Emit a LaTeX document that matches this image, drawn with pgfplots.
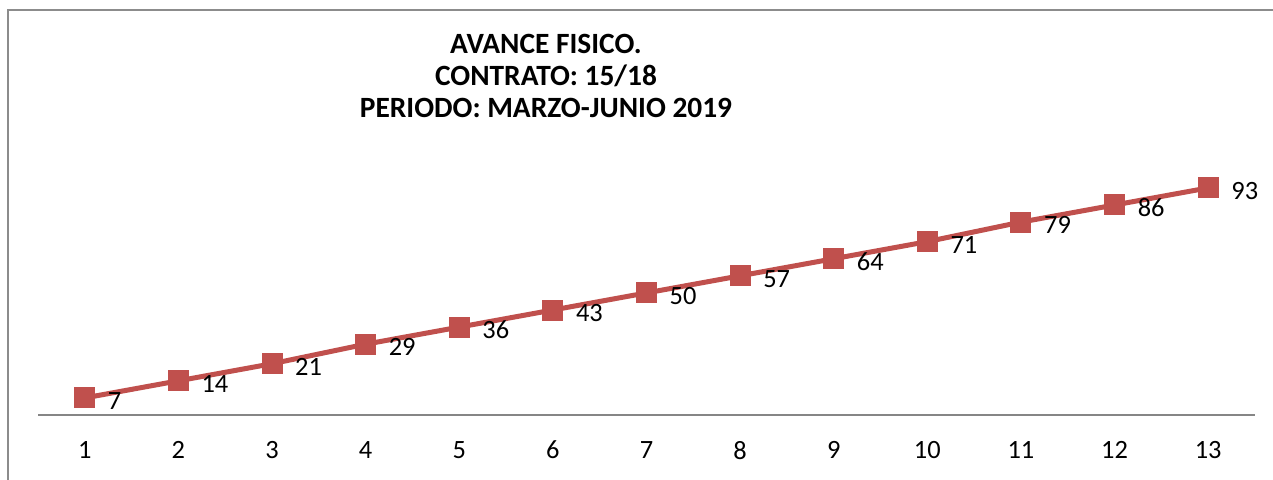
\documentclass[border=0pt]{standalone}
\usepackage{pgfplots}
\pgfplotsset{compat=1.18}
\usepackage{fontspec}
\setmainfont{Carlito}
\definecolor{serie}{RGB}{192,80,77}
\definecolor{framegray}{RGB}{140,140,140}
\definecolor{axisgray}{RGB}{134,134,134}
\begin{document}
\begin{tikzpicture}
\path[use as bounding box] (0,0) rectangle (636.5pt,239.5pt);
\draw[framegray, line width=1pt] (4pt,-10pt) -- (4pt,234.5pt) -- (650pt,234.5pt);
\node[align=center, font=\fontsize{14.7}{15.9}\selectfont\bfseries] at (273pt,201.5pt)
  {AVANCE FISICO.\\CONTRATO: 15/18\\PERIODO: MARZO-JUNIO 2019};
\begin{axis}[
  at={(19pt,32pt)}, anchor=south west,
  scale only axis, width=608.5pt, height=122.1pt,
  xmin=0.5, xmax=13.5, ymin=0, ymax=100,
  axis x line*=bottom, hide y axis,
  axis line style={axisgray, line width=0.75pt, -},
  xtick={1,...,13}, major tick length=0pt,
  /pgf/number format/assume math mode=true,
  xticklabel style={font=\fontsize{13.2}{15.8}\selectfont, anchor=north, yshift=-9.5pt},
  clip=false,
  nodes near coords,
  nodes near coords style={font=\fontsize{13.2}{15.8}\selectfont, anchor=west, xshift=8pt, yshift=-1.5pt, text=black},
]
\addplot[serie, line width=2.5pt, mark=square*, mark size=5pt, mark options={line width=0.5pt}]
coordinates {(1,7)(2,14)(3,21)(4,29)(5,36)(6,43)(7,50)(8,57)(9,64)(10,71)(11,79)(12,86)(13,93)};
\end{axis}
\end{tikzpicture}
\end{document}
